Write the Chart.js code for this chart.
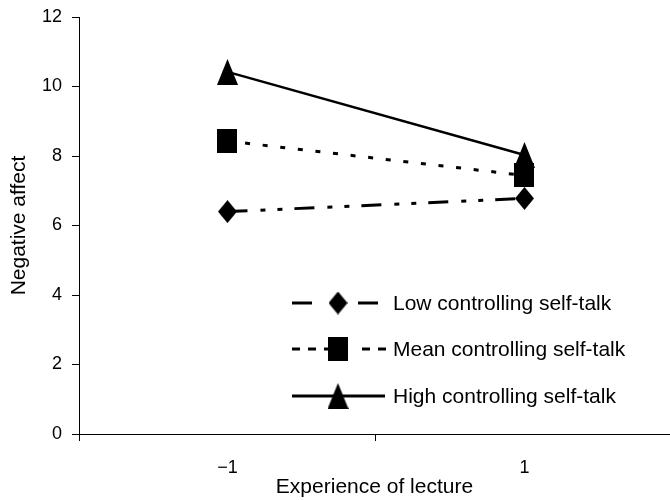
<!DOCTYPE html>
<html>
<head>
<meta charset="utf-8">
<script src="https://cdn.jsdelivr.net/npm/chart.js@4/dist/chart.umd.min.js"></script>
<style>
  html, body { margin: 0; padding: 0; background: #fff; overflow: hidden; }
  canvas { display: block; }
</style>
</head>
<body>
<canvas id="chart" width="670" height="500"></canvas>
<script>
// data
var experience = [-1, 1];
var experienceLabels = ['\u22121', '1'];
var lowValues = [6.4, 6.78];
var meanValues = [8.43, 7.44];
var highValues = [10.42, 8.03];
var seriesLabels = ['Low controlling self-talk', 'Mean controlling self-talk', 'High controlling self-talk'];

var FONT = '"Liberation Sans", Arial, sans-serif';

function makeMarker(shape, w, h) {
    var c = document.createElement('canvas');
    c.width = w;
    c.height = h;
    var g = c.getContext('2d');
    g.fillStyle = '#000';
    g.beginPath();
    if (shape == 'diamond') {
        g.moveTo(w / 2, 0); g.lineTo(w, h / 2); g.lineTo(w / 2, h); g.lineTo(0, h / 2);
    } else if (shape == 'square') {
        g.rect(0, 0, w, h);
    } else {
        g.moveTo(w / 2, 0); g.lineTo(w, h); g.lineTo(0, h);
    }
    g.closePath();
    g.fill();
    return c;
}

var diamond = makeMarker('diamond', 19, 23);
var square = makeMarker('square', 20, 24);
var triangle = makeMarker('triangle', 21, 26);

function points(values) {
    return experience.map(function (x, i) { return {x: x, y: values[i]}; });
}

// legend: line sample with marker in the middle, drawn on the canvas
var legendRows = [
    {y: 303, marker: diamond, segs: [[292, 312], [358, 378]], dash: []},
    {y: 349, marker: square, segs: [[292, 330], [362, 386]], dash: [8, 8]},
    {y: 396, marker: triangle, segs: [[292, 385]], dash: []}
];

var legendPlugin = {
    id: 'lineLegend',
    afterDraw: function (chart) {
        var ctx = chart.ctx;
        ctx.save();
        legendRows.forEach(function (row, i) {
            ctx.strokeStyle = '#000';
            ctx.lineWidth = 3;
            ctx.setLineDash(row.dash);
            row.segs.forEach(function (s) {
                ctx.beginPath();
                ctx.moveTo(s[0], row.y);
                ctx.lineTo(s[1], row.y);
                ctx.stroke();
            });
            ctx.setLineDash([]);
            ctx.drawImage(row.marker, 338 - row.marker.width / 2, row.y - row.marker.height / 2);
            ctx.fillStyle = '#000';
            ctx.font = '21px ' + FONT;
            ctx.textBaseline = 'middle';
            ctx.fillText(chart.data.datasets[i].label, 393, row.y + 1);
        });
        ctx.restore();
    }
};

var ctx = document.getElementById('chart').getContext('2d');

var chart = new Chart(ctx, {
    type: 'line',
    data: {
        datasets: [{
            label: seriesLabels[0],
            data: points(lowValues),
            borderColor: '#000',
            borderWidth: 3,
            borderDash: [20, 13, 5, 12, 5, 12],
            pointStyle: diamond
        }, {
            label: seriesLabels[1],
            data: points(meanValues),
            borderColor: '#000',
            borderWidth: 3,
            borderDash: [5, 12.7],
            pointStyle: square
        }, {
            label: seriesLabels[2],
            data: points(highValues),
            borderColor: '#000',
            borderWidth: 2.5,
            pointStyle: triangle
        }]
    },
    options: {
        responsive: false,
        animation: false,
        layout: {autoPadding: false, padding: {top: 17, left: 0, right: 0, bottom: 0}},
        plugins: {legend: {display: false}, tooltip: {enabled: false}},
        elements: {line: {tension: 0}, point: {radius: 10}},
        scales: {
            x: {
                type: 'linear',
                min: -2,
                max: 1.98,
                afterBuildTicks: function (scale) {
                    scale.ticks = [-2, -1, 0, 1].map(function (v) { return {value: v}; });
                },
                afterFit: function (scale) {
                    scale.height = 66;
                    scale.paddingLeft = 0;
                    scale.paddingRight = 0;
                },
                ticks: {
                    autoSkip: false,
                    maxRotation: 0,
                    color: '#000',
                    padding: 16,
                    font: {family: FONT, size: 18},
                    callback: function (v) {
                        var i = experience.indexOf(v);
                        return i >= 0 ? experienceLabels[i] : '';
                    }
                },
                grid: {
                    drawOnChartArea: false,
                    tickLength: 7,
                    color: function (c) {
                        return (c.tick && experience.indexOf(c.tick.value) >= 0) ? 'rgba(0,0,0,0)' : '#000';
                    }
                },
                border: {color: '#000', width: 1},
                title: {
                    display: true,
                    text: 'Experience of lecture',
                    color: '#000',
                    padding: {top: 5, bottom: 0},
                    font: {family: FONT, size: 21}
                }
            },
            y: {
                min: 0,
                max: 12,
                afterFit: function (scale) {
                    scale.width = 79;
                    scale.paddingTop = 0;
                    scale.paddingBottom = 0;
                },
                ticks: {
                    stepSize: 2,
                    color: '#000',
                    padding: 10,
                    font: {family: FONT, size: 18}
                },
                grid: {drawOnChartArea: false, tickLength: 7, color: '#000'},
                border: {color: '#000', width: 1},
                title: {
                    display: true,
                    text: 'Negative affect',
                    color: '#000',
                    padding: {top: 7, bottom: 0},
                    font: {family: FONT, size: 21}
                }
            }
        }
    },
    plugins: [legendPlugin]
});
</script>
</body>
</html>
